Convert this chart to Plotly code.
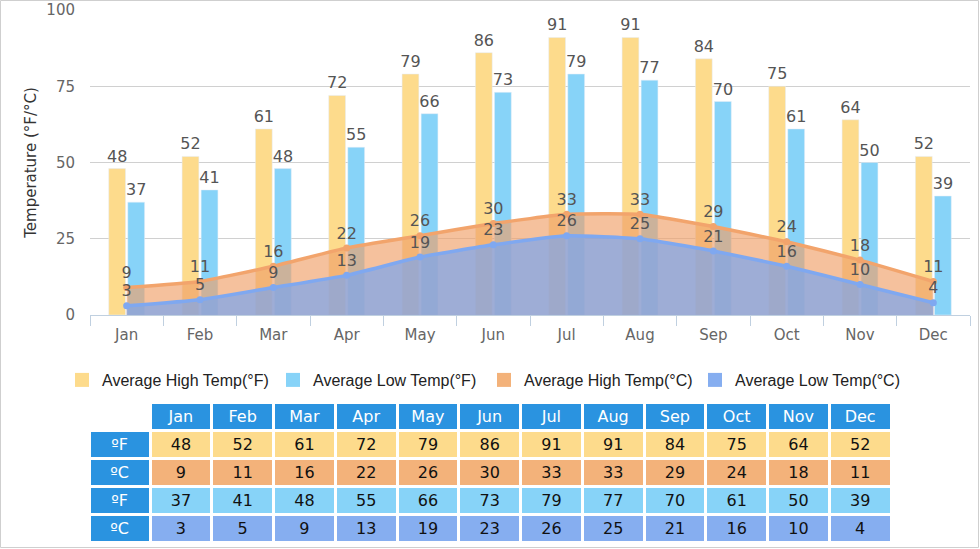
import plotly.graph_objects as go

months = ["Jan", "Feb", "Mar", "Apr", "May", "Jun",
          "Jul", "Aug", "Sep", "Oct", "Nov", "Dec"]
high_f = [48, 52, 61, 72, 79, 86, 91, 91, 84, 75, 64, 52]
low_f = [37, 41, 48, 55, 66, 73, 79, 77, 70, 61, 50, 39]
high_c = [9, 11, 16, 22, 26, 30, 33, 33, 29, 24, 18, 11]
low_c = [3, 5, 9, 13, 19, 23, 26, 25, 21, 16, 10, 4]
row_labels = ["ºF", "ºC", "ºF", "ºC"]

W, H = 980, 549
YELLOW = "#fddb8c"
LIGHTBLUE = "#87d3f8"
ORANGE = "#f3b27a"
BLUE = "#86aef0"
HEADBLUE = "#2a93e0"
CHART_FONT = "DejaVu Sans"
label_font = dict(color="#555", size=16, family=CHART_FONT)

fig = go.Figure()

# bars (°F)
fig.add_trace(go.Bar(x=months, y=high_f, name="Average High Temp(°F)",
                     marker_color=YELLOW, text=high_f, textposition="outside",
                     textfont=label_font, constraintext="none",
                     cliponaxis=False, showlegend=False))
fig.add_trace(go.Bar(x=months, y=low_f, name="Average Low Temp(°F)",
                     marker_color=LIGHTBLUE, text=low_f, textposition="outside",
                     textfont=label_font, constraintext="none",
                     cliponaxis=False, showlegend=False))

# areas (°C)
fig.add_trace(go.Scatter(x=months, y=high_c, name="Average High Temp(°C)",
                         mode="lines+markers+text", fill="tozeroy",
                         fillcolor="rgba(240,160,105,0.65)",
                         line=dict(color="#f2a46c", width=3.5, shape="spline", smoothing=0.4),
                         marker=dict(size=7, color="#f2a46c"),
                         text=high_c, textposition="top center", textfont=label_font,
                         cliponaxis=False, showlegend=False))
fig.add_trace(go.Scatter(x=months, y=low_c, name="Average Low Temp(°C)",
                         mode="lines+markers+text", fill="tozeroy",
                         fillcolor="rgba(125,165,235,0.72)",
                         line=dict(color="#7fa8f0", width=3.5, shape="spline", smoothing=0.4),
                         marker=dict(size=7, color="#7fa8f0"),
                         text=low_c, textposition="top center", textfont=label_font,
                         cliponaxis=False, showlegend=False))

# legend entries as plain squares
for name, col in [("Average High Temp(°F)", YELLOW), ("Average Low Temp(°F)", LIGHTBLUE),
                  ("Average High Temp(°C)", ORANGE), ("Average Low Temp(°C)", BLUE)]:
    fig.add_trace(go.Scatter(x=[None], y=[None], mode="markers", name=name,
                             marker=dict(symbol="square", size=14, color=col)))

# data table
cell_cols = [row_labels] + [[high_f[i], high_c[i], low_f[i], low_c[i]] for i in range(12)]
row_fill = [YELLOW, ORANGE, LIGHTBLUE, BLUE]
fig.add_trace(go.Table(
    domain=dict(x=[89 / W, 891 / W], y=[1 - 544 / H, 1 - 402 / H]),
    columnwidth=[61] + [61.75] * 12,
    header=dict(values=[""] + months, height=28, align="center",
                fill_color=["white"] + [HEADBLUE] * 12,
                line=dict(color="white", width=3),
                font=dict(color="white", size=16, family=CHART_FONT)),
    cells=dict(values=cell_cols, height=28, align="center",
               fill_color=[[HEADBLUE] * 4] + [row_fill] * 12,
               line=dict(color="white", width=3),
               font=dict(color=[["white"] * 4] + [["#111"] * 4] * 12,
                         size=16, family=CHART_FONT)),
))

fig.update_layout(
    width=W, height=H,
    margin=dict(l=0, r=0, t=0, b=0, autoexpand=False),
    paper_bgcolor="white", plot_bgcolor="white",
    barmode="group", bargap=0.48, bargroupgap=0.12,
    font=dict(family=CHART_FONT, color="#666"),
    legend=dict(orientation="h", x=62 / W, xanchor="left", y=1 - 363 / H, yanchor="top",
                font=dict(family="Liberation Sans, Arial", size=16, color="#222"),
                itemwidth=30, entrywidth=166, bgcolor="rgba(0,0,0,0)"),
    xaxis=dict(domain=[90 / W, 970 / W], anchor="y", automargin=False,
               showline=True, linecolor="#c0d0e0", linewidth=1,
               ticks="outside", tickson="boundaries", ticklen=10, tickcolor="#c0d0e0",
               ticklabelstandoff=6,
               tickfont=dict(size=15, color="#666"), showgrid=False, fixedrange=True),
    yaxis=dict(domain=[1 - 315 / H, 1 - 10 / H], anchor="x", automargin=False,
               range=[0, 100], dtick=25, showgrid=True, gridcolor="#d0d0d0",
               zeroline=False, showline=False, ticks="", ticklabelstandoff=14,
               tickfont=dict(size=15, color="#666"), fixedrange=True,
               title=dict(text="Temperature (°F/°C)", standoff=6,
                          font=dict(size=15, color="#333"))),
    shapes=[dict(type="rect", xref="paper", yref="paper",
                 x0=0.5 / W, x1=1 - 1.5 / W, y0=1.5 / H, y1=1 - 0.5 / H,
                 line=dict(color="#cfcfcf", width=1), layer="below")],
)

fig.write_html("out.html", config={"displayModeBar": False},
               post_script="document.body.style.margin='0';")
